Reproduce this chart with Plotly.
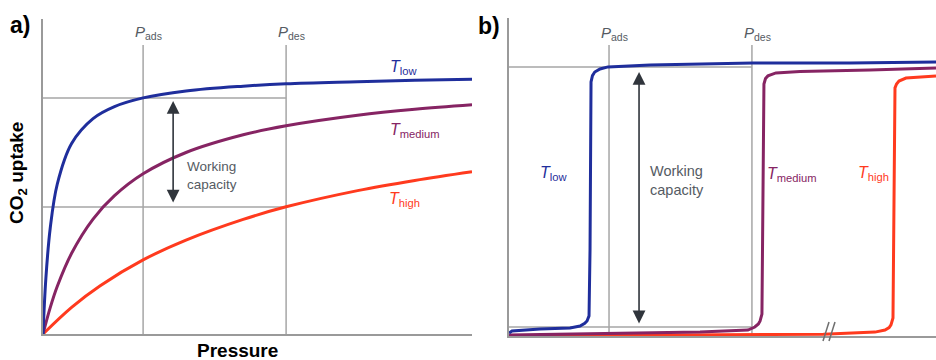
import plotly.graph_objects as go

# ---------------- data ----------------
# Panel a: classic Langmuir-type isotherms (pressure, uptake)
a_low_p = [0, 0.02, 0.05, 0.1, 0.2, 0.35, 0.5, 0.7, 1.0, 1.4, 1.7, 2.2, 2.6, 3.0]
a_low_q = [0, 0.185, 0.351, 0.500, 0.635, 0.718, 0.758, 0.787, 0.810, 0.826, 0.834, 0.841, 0.846, 0.849]
a_med_p = [0, 0.05, 0.1, 0.2, 0.35, 0.5, 0.7, 1.0, 1.4, 1.7, 2.2, 2.6, 3.0]
a_med_q = [0, 0.087, 0.159, 0.269, 0.383, 0.461, 0.534, 0.605, 0.664, 0.694, 0.729, 0.749, 0.764]
a_high_p = [0, 0.2, 0.4, 0.7, 1.0, 1.4, 1.7, 2.2, 2.6, 3.0]
a_high_q = [0, 0.089, 0.161, 0.247, 0.313, 0.382, 0.424, 0.478, 0.512, 0.541]

# Panel b: step-shaped isotherms
b_low_p = [0, 0.021, 0.217, 0.427, 0.497, 0.530, 0.546, 0.560, 0.567, 0.574, 0.584, 0.600, 0.637, 0.693, 0.987, 1.707, 2.386, 2.988]
b_low_q = [0.010, 0.017, 0.023, 0.027, 0.033, 0.042, 0.050, 0.067, 0.287, 0.847, 0.868, 0.880, 0.890, 0.897, 0.903, 0.910, 0.910, 0.913]
b_med_p = [0, 0.637, 1.337, 1.672, 1.720, 1.745, 1.757, 1.770, 1.777, 1.784, 1.795, 1.812, 1.868, 2.036, 2.526, 2.988]
b_med_q = [0.003, 0.007, 0.013, 0.020, 0.030, 0.040, 0.050, 0.073, 0.453, 0.840, 0.858, 0.867, 0.877, 0.882, 0.887, 0.893]
b_high_p = [0, 1.707, 2.200, 2.561, 2.631, 2.660, 2.673, 2.687, 2.694, 2.701, 2.712, 2.729, 2.778, 2.876, 2.988]
b_high_q = [0.000, 0.003, 0.006, 0.013, 0.020, 0.028, 0.037, 0.060, 0.453, 0.827, 0.840, 0.850, 0.860, 0.863, 0.867]

# working-capacity markers
P_ADS, P_DES = 0.7, 1.7
a_upper, a_lower = 0.787, 0.423
b_upper, b_lower = 0.897, 0.030
a_vtop, b_vtop = 0.963, 0.970

BLUE, PURPLE, RED = "#1f2e9c", "#862463", "#ff3a1e"
GRAY = "#a6a6a6"
TXT = "#555b63"
FONT = "Liberation Sans, Arial, sans-serif"
W, H = 936, 360

def px(x):
    return x / W

def py(y):
    return 1 - y / H

fig = go.Figure()

def line(x, y, color, width, xa, ya, shape="linear"):
    fig.add_trace(go.Scatter(x=x, y=y, mode="lines", xaxis=xa, yaxis=ya,
                             line=dict(color=color, width=width, shape=shape),
                             hoverinfo="skip", showlegend=False))

# reference lines (gray)
for xa, ya, up, lo, vtop in [("x", "y", a_upper, a_lower, a_vtop), ("x2", "y2", b_upper, b_lower, b_vtop)]:
    line([P_ADS, P_ADS], [0, vtop], GRAY, 1.5, xa, ya)
    line([P_DES, P_DES], [0, vtop], GRAY, 1.5, xa, ya)
    line([0, P_DES], [up, up], GRAY, 1.5, xa, ya)
    line([0, P_DES], [lo, lo], GRAY, 1.5, xa, ya)

# curves
line(a_high_p, a_high_q, RED, 3, "x", "y", "spline")
line(a_med_p, a_med_q, PURPLE, 3, "x", "y", "spline")
line(a_low_p, a_low_q, BLUE, 3, "x", "y", "spline")
line(b_high_p, b_high_q, RED, 3, "x2", "y2")
line(b_med_p, b_med_q, PURPLE, 3, "x2", "y2")
line(b_low_p, b_low_q, BLUE, 3, "x2", "y2")

ax_common = dict(showgrid=False, zeroline=False, showticklabels=False, ticks="",
                 showline=True, linecolor="#9a9a9a", linewidth=1.5, fixedrange=True)
fig.update_layout(
    width=W, height=H, margin=dict(l=0, r=0, t=0, b=0),
    paper_bgcolor="white", plot_bgcolor="white",
    xaxis=dict(domain=[px(43), px(472)], range=[0, 3.0], anchor="y", **ax_common),
    yaxis=dict(domain=[py(334), py(19)], range=[0, 1.05], anchor="x", **ax_common),
    xaxis2=dict(domain=[px(509), 1.0], range=[0, 2.988], anchor="y2", **ax_common),
    yaxis2=dict(domain=[py(336), py(18)], range=[0, 1.06], anchor="x2", **ax_common),
)

ann = []

def txt(x, y, s, size, color, xref="paper", yref="paper", xanchor="center", bold=False, angle=0):
    ann.append(dict(x=x, y=y, xref=xref, yref=yref, text=s, showarrow=False,
                    xanchor=xanchor, yanchor="middle", textangle=angle, align="left",
                    font=dict(family=FONT, size=size, color=color,
                              weight="bold" if bold else "normal")))

# panel letters and axis titles
txt(px(20), py(25), "a)", 23, "black", bold=True)
txt(px(489), py(26), "b)", 23, "black", bold=True)
txt(px(18), py(173), "CO<sub>2</sub> uptake", 19, "black", bold=True, angle=-90)
txt(px(237), py(350), "Pressure", 19, "black", bold=True)

# pressure labels
for xa, ya, yl in [("x", "y", 1.005), ("x2", "y2", 1.008)]:
    txt(P_ADS + 0.04, yl, "<i>P</i><sub>ads</sub>", 15, TXT, xa, ya)
    txt(P_DES + 0.04, yl, "<i>P</i><sub>des</sub>", 15, TXT, xa, ya)

# temperature labels
txt(2.52, 0.89, "<i>T</i><sub>low</sub>", 16, BLUE, "x", "y")
txt(2.60, 0.68, "<i>T</i><sub>medium</sub>", 16, PURPLE, "x", "y")
txt(2.53, 0.447, "<i>T</i><sub>high</sub>", 16, RED, "x", "y")
txt(0.31, 0.543, "<i>T</i><sub>low</sub>", 16, BLUE, "x2", "y2")
txt(1.98, 0.537, "<i>T</i><sub>medium</sub>", 16, PURPLE, "x2", "y2")
txt(2.55, 0.543, "<i>T</i><sub>high</sub>", 16, RED, "x2", "y2")

# working capacity text
txt(0.99, 0.530, "Working<br>capacity", 13.5, TXT, "x", "y", xanchor="left")
txt(0.97, 0.520, "Working<br>capacity", 14.5, TXT, "x2", "y2", xanchor="left")

# double-headed arrows
for xa, ya, top, bot in [("x", "y", 0.777, 0.433), ("x2", "y2", 0.880, 0.037)]:
    ann.append(dict(x=0.91, y=top, ax=0.91, ay=bot, xref=xa, yref=ya, axref=xa, ayref=ya,
                    text="", showarrow=True, arrowhead=2, startarrowhead=2,
                    arrowside="end+start", arrowsize=1.6, startarrowsize=1.6,
                    arrowwidth=1.6, arrowcolor="#30353c"))

fig.update_layout(annotations=ann)

# axis break marks on panel b
for x0 in (823, 829):
    fig.add_shape(type="line", xref="paper", yref="paper",
                  x0=px(x0), y0=py(341), x1=px(x0 + 6), y1=py(322),
                  line=dict(color="#6f6f6f", width=1.5))

fig.write_html("out.html")
